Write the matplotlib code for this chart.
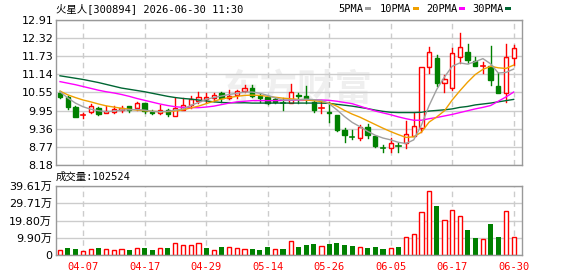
import matplotlib
matplotlib.use("Agg")
import matplotlib.pyplot as plt
from matplotlib.patches import Rectangle

plt.rcParams['font.family'] = ['DejaVu Sans', 'Noto Sans CJK SC']

# daily candles, 300894, price in yuan
opens = [10.54, 10.39, 10.08, 9.81, 9.90, 10.03, 9.89, 9.90, 9.97, 10.10,
         10.03, 10.19, 9.92, 9.87, 9.99, 9.79, 9.99, 10.14, 10.28, 10.33,
         10.36, 10.52, 10.36, 10.45, 10.60, 10.70, 10.43, 10.41, 10.32, 10.19,
         10.19, 10.45, 10.43, 10.25, 10.05, 9.92, 9.81, 9.32, 9.09, 9.06,
         9.41, 9.13, 8.73, 8.73, 8.79, 8.89, 9.13, 9.38, 11.39, 11.66,
         10.85, 10.68, 11.69, 11.86, 11.56, 11.40, 11.41, 10.76, 10.54, 11.66]
highs = [10.58, 10.43, 10.10, 9.89, 10.18, 10.06, 10.10, 10.10, 10.10, 10.12,
         10.23, 10.19, 9.97, 10.15, 10.00, 10.36, 10.36, 10.43, 10.57, 10.52,
         10.53, 10.55, 10.62, 10.64, 10.79, 10.78, 10.49, 10.41, 10.36, 10.36,
         10.83, 10.52, 10.77, 10.30, 10.28, 10.25, 9.81, 9.38, 9.32, 9.47,
         9.51, 9.13, 8.83, 9.05, 8.91, 9.62, 9.89, 11.37, 12.04, 11.77,
         11.12, 11.99, 12.48, 12.13, 11.71, 11.55, 12.06, 11.17, 12.13, 12.09]
lows = [10.36, 10.02, 9.73, 9.70, 9.89, 9.80, 9.87, 9.87, 9.90, 9.90,
        9.98, 9.88, 9.83, 9.84, 9.77, 9.78, 9.97, 10.04, 10.20, 10.23,
        10.27, 10.25, 10.33, 10.37, 10.55, 10.41, 10.25, 10.17, 10.19, 9.97,
        10.19, 10.19, 10.19, 9.90, 9.88, 9.59, 9.30, 8.94, 9.03, 9.00,
        9.06, 8.78, 8.61, 8.61, 8.61, 8.74, 9.13, 9.27, 11.17, 10.76,
        10.57, 10.63, 11.50, 11.50, 11.42, 11.17, 10.79, 10.54, 10.25, 11.44]
closes = [10.41, 10.08, 9.74, 9.81, 10.11, 9.83, 9.95, 10.00, 10.03, 9.98,
          10.19, 9.93, 9.88, 9.99, 9.83, 10.03, 10.14, 10.32, 10.40, 10.39,
          10.47, 10.36, 10.43, 10.58, 10.70, 10.42, 10.36, 10.19, 10.22, 10.19,
          10.55, 10.43, 10.36, 9.99, 10.05, 9.89, 9.33, 9.16, 9.09, 9.41,
          9.16, 8.81, 8.73, 8.89, 8.79, 9.18, 9.45, 11.37, 11.88, 10.86,
          10.97, 11.82, 12.02, 11.61, 11.42, 11.40, 10.95, 10.54, 11.69, 11.99]

# volume in 万手, and whether the volume bar is red (1) or green (0)
volumes = [2.7, 4.0, 3.4, 2.3, 3.3, 4.0, 3.3, 2.9, 3.3, 2.9,
           3.8, 4.0, 2.9, 3.8, 4.0, 6.7, 5.6, 5.6, 6.7, 4.0,
           2.7, 4.6, 4.4, 3.8, 3.3, 3.4, 2.9, 4.6, 3.3, 3.4,
           7.9, 4.6, 5.7, 6.3, 5.0, 6.3, 6.9, 5.7, 5.2, 4.4,
           4.0, 4.6, 3.4, 3.8, 4.6, 10.2, 12.0, 24.5, 36.6, 28.1,
           19.9, 25.6, 22.2, 14.3, 9.8, 9.0, 17.8, 10.3, 25.1, 10.2524]
rising = [1, 0, 0, 1, 1, 0, 1, 1, 1, 0,
          1, 0, 0, 1, 0, 1, 1, 1, 1, 0,
          1, 0, 1, 1, 1, 0, 0, 0, 1, 0,
          1, 0, 0, 0, 1, 0, 0, 0, 0, 1,
          0, 0, 0, 1, 0, 1, 1, 1, 1, 0,
          1, 1, 1, 0, 0, 1, 0, 0, 1, 1]

# moving averages as drawn on the chart
ma5 = [10.57, 10.37, 10.20, 10.08, 10.00, 9.95, 9.92, 9.94, 9.97, 9.98,
       9.99, 9.97, 9.93, 9.92, 9.93, 9.97, 10.01, 10.12, 10.22, 10.32,
       10.38, 10.43, 10.48, 10.52, 10.56, 10.56, 10.52, 10.45, 10.37, 10.30,
       10.30, 10.31, 10.33, 10.31, 10.29, 10.18, 9.98, 9.76, 9.57, 9.43,
       9.28, 9.15, 9.06, 9.00, 8.92, 8.88, 9.00, 9.48, 10.12, 10.65,
       11.05, 11.40, 11.51, 11.47, 11.55, 11.65, 11.48, 11.18, 11.20, 11.31]
ma10 = [10.59, 10.47, 10.38, 10.30, 10.24, 10.17, 10.11, 10.07, 10.03, 10.00,
        9.97, 9.95, 9.93, 9.92, 9.92, 9.94, 9.98, 10.04, 10.10, 10.18,
        10.26, 10.33, 10.38, 10.42, 10.45, 10.46, 10.45, 10.42, 10.39, 10.36,
        10.34, 10.32, 10.30, 10.28, 10.25, 10.20, 10.10, 9.96, 9.84, 9.74,
        9.62, 9.50, 9.38, 9.27, 9.17, 9.08, 9.10, 9.25, 9.58, 9.75,
        9.95, 10.30, 10.60, 10.88, 11.13, 11.30, 11.40, 11.35, 11.33, 11.44]
ma20 = [10.90, 10.85, 10.80, 10.74, 10.68, 10.62, 10.57, 10.53, 10.48, 10.42,
        10.35, 10.29, 10.23, 10.17, 10.12, 10.08, 10.06, 10.05, 10.05, 10.07,
        10.10, 10.15, 10.20, 10.24, 10.26, 10.28, 10.28, 10.28, 10.28, 10.29,
        10.29, 10.30, 10.30, 10.30, 10.30, 10.29, 10.26, 10.22, 10.18, 10.10,
        10.02, 9.94, 9.88, 9.82, 9.75, 9.69, 9.64, 9.64, 9.69, 9.73,
        9.78, 9.83, 9.89, 9.95, 10.01, 10.06, 10.12, 10.26, 10.40, 10.56]
ma30 = [11.09, 11.05, 11.01, 10.97, 10.92, 10.87, 10.81, 10.75, 10.69, 10.65,
        10.61, 10.57, 10.52, 10.47, 10.42, 10.38, 10.35, 10.33, 10.30, 10.27,
        10.24, 10.22, 10.21, 10.21, 10.21, 10.20, 10.20, 10.20, 10.20, 10.20,
        10.20, 10.20, 10.20, 10.20, 10.20, 10.19, 10.16, 10.13, 10.10, 10.06,
        10.02, 9.97, 9.93, 9.90, 9.89, 9.89, 9.89, 9.90, 9.94, 9.96,
        9.98, 10.01, 10.06, 10.09, 10.14, 10.17, 10.20, 10.24, 10.28, 10.32]

date_idx = [3, 11, 19, 27, 35, 43, 51, 59]
date_labels = ['04-07', '04-17', '04-29', '05-14', '05-26', '06-05', '06-17', '06-30']
price_ticks = [8.18, 8.77, 9.36, 9.95, 10.55, 11.14, 11.73, 12.32, 12.91]
vol_ticks = [0, 9.90, 19.80, 29.71, 39.61]
vol_labels = ['0', '9.90万', '19.80万', '29.71万', '39.61万']

RED = '#ff0000'
GREEN = '#008000'
ma_names = ['5PMA', '10PMA', '20PMA', '30PMA']
ma_colors = ['#a0a0a0', '#f0a000', '#ff00ff', '#006633']
MONO = ['DejaVu Sans Mono', 'Noto Sans CJK SC']

W, H = 578, 276
fig = plt.figure(figsize=(W / 100, H / 100), dpi=100)
ax = fig.add_axes([56 / W, 1 - 165 / H, 466 / W, 145 / H])
av = fig.add_axes([56 / W, 1 - 255 / H, 466 / W, 69 / H])

n = len(closes)
x = list(range(n))
bw = 0.56

# candles
for i in range(n):
    o, h, l, c = opens[i], highs[i], lows[i], closes[i]
    up = c > o or (c == o and rising[i])
    col = RED if up else GREEN
    top, bot = max(o, c), min(o, c)
    if top - bot < 0.005:
        ax.plot([i - bw / 2, i + bw / 2], [c, c], color=col, lw=1.2, zorder=2)
        ax.plot([i, i], [l, h], color=col, lw=1, zorder=2)
    else:
        ax.add_patch(Rectangle((i - bw / 2, bot), bw, top - bot,
                               facecolor='white' if up else col,
                               edgecolor=col, lw=1, zorder=2))
        if h > top:
            ax.plot([i, i], [top, h], color=col, lw=1, zorder=2)
        if l < bot:
            ax.plot([i, i], [l, bot], color=col, lw=1, zorder=2)

for vals, col in zip([ma30, ma20, ma10, ma5], ma_colors[::-1]):
    ax.plot(x, vals, color=col, lw=1, zorder=3)

# volume bars
for i in range(n):
    if rising[i]:
        av.bar(i, volumes[i], width=bw, facecolor='white', edgecolor=RED, lw=1, zorder=2)
    else:
        av.bar(i, volumes[i], width=bw + 0.1, color=GREEN, lw=0, zorder=2)

# watermark
ax.text(0.52, 0.52, '东方财富', transform=ax.transAxes, fontsize=27, fontweight='bold',
        color='#efefef', ha='center', va='center', family='Noto Sans CJK SC', zorder=0)

for a in (ax, av):
    a.set_xlim(-0.52, 60.08)
    a.set_xticks(date_idx)
    a.grid(axis='x', color='#cccccc', lw=1, linestyle=(0, (4, 3)), zorder=1)
    a.grid(axis='y', color='#cccccc', lw=1, linestyle='-', zorder=1)
    a.set_axisbelow(True)
    for s in a.spines.values():
        s.set_color('#999999')
        s.set_linewidth(1)
    a.tick_params(length=0)

ax.set_ylim(price_ticks[0], price_ticks[-1])
ax.set_yticks(price_ticks)
ax.set_yticklabels([f'{t:.2f}' for t in price_ticks], fontsize=8, color='black')
ax.tick_params(axis='y', pad=2)
ax.tick_params(axis='x', labelbottom=False)

av.set_ylim(0, vol_ticks[-1])
av.set_yticks(vol_ticks)
av.set_yticklabels(vol_labels, fontsize=8, color='black')
av.tick_params(axis='y', pad=3)
av.set_xticklabels(date_labels, fontsize=7.5, color=RED, family=MONO)
av.tick_params(axis='x', pad=5)

# header text and legend
fig.text(56 / W, 1 - 9 / H, '火星人[300894] 2026-06-30 11:30', fontsize=7.5,
         family=MONO, va='center', ha='left')
leg_x = [338, 380, 426, 472]
for name, col, lx in zip(ma_names, ma_colors, leg_x):
    fig.text(lx / W, 1 - 9 / H, name, fontsize=7.5, family=MONO, va='center', ha='left')
    sx = lx + 6.27 * len(name) + 2
    fig.add_artist(Rectangle((sx / W, 1 - 10 / H), 6 / W, 3 / H,
                             transform=fig.transFigure, color=col, lw=0))
fig.text(56 / W, 1 - 177 / H, f'成交量:{round(volumes[-1] * 10000)}', fontsize=7.5,
         family=MONO, va='center', ha='left')

fig.savefig('out.png', dpi=100)
